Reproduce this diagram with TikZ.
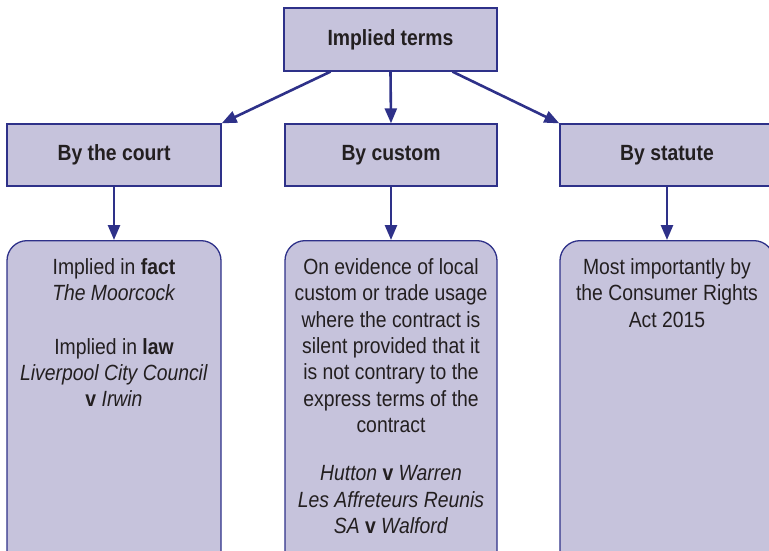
\documentclass[tikz,border=0pt]{standalone}
\usepackage{fontspec}
\setmainfont{Liberation Sans}[FakeStretch=0.88]
\usetikzlibrary{arrows.meta}
\definecolor{boxfill}{HTML}{C6C3DC}
\definecolor{boxline}{HTML}{2E3189}
\definecolor{ink}{HTML}{231F20}
\begin{document}
\begin{tikzpicture}[x=1pt,y=-1pt,
  headbox/.style={draw=boxline,fill=boxfill,line width=1.3pt,minimum width=213pt,minimum height=62pt,
    font=\fontsize{22}{26}\selectfont\bfseries,text=ink,inner sep=0pt},
  bodybox/.style={draw=boxline,fill=boxfill,line width=1.3pt,rounded corners=20pt,
    minimum width=213pt,minimum height=330pt,inner sep=0pt},
  bodytext/.style={anchor=north,align=center,text=ink,inner sep=0pt,
    font=\fontsize{22}{26.3}\selectfont},
  link/.style={draw=boxline,line width=2.6pt,-{Triangle[length=15pt,width=12pt]}}]
\useasboundingbox (0,0) rectangle (769,550);
\clip (0,0) rectangle (769,550);

% heading boxes
\node[headbox,minimum width=213pt,minimum height=63pt] (top) at (390.5,39.5) {Implied terms};
\node[headbox,minimum width=214pt] (court) at (114,155) {By the court};
\node[headbox,minimum width=212pt] (custom) at (391,155) {By custom};
\node[headbox,minimum width=214pt] (statute) at (667,155) {By statute};

% detail boxes, running off the lower edge
\node[bodybox,minimum width=214pt,anchor=north] (courtbox) at (114,240) {};
\node[bodybox,minimum width=212pt,anchor=north] (custombox) at (391,240) {};
\node[bodybox,minimum width=214pt,anchor=north] (statutebox) at (667,240) {};

% detail texts
\node[bodytext] (courttext) at (114,258.5) {Implied in \textbf{fact}\\
  \textit{The Moorcock}\\[27pt]
  Implied in \textbf{law}\\
  \textit{Liverpool City Council}\\
  \textbf{v} \textit{Irwin}};
\node[bodytext] (customtext) at (391,258.5) {On evidence of local\\
  custom or trade usage\\
  where the contract is\\
  silent provided that it\\
  is not contrary to the\\
  express terms of the\\
  contract\\[22pt]
  \textit{Hutton} \textbf{v} \textit{Warren}\\
  \textit{Les Affreteurs Reunis}\\
  \textit{SA} \textbf{v} \textit{Walford}};
\node[bodytext] (statutetext) at (667,258.5) {Most importantly by\\
  the Consumer Rights\\
  Act 2015};

% connectors
\draw[link] ([xshift=-60pt]top.south) -- (court.north east);
\draw[link] (top.south) -- (custom.north);
\draw[link] ([xshift=62pt]top.south) -- (statute.north west);
\draw[link] (court.south) -- (courtbox.north);
\draw[link] (custom.south) -- (custombox.north);
\draw[link] (statute.south) -- (statutebox.north);
\end{tikzpicture}
\end{document}
